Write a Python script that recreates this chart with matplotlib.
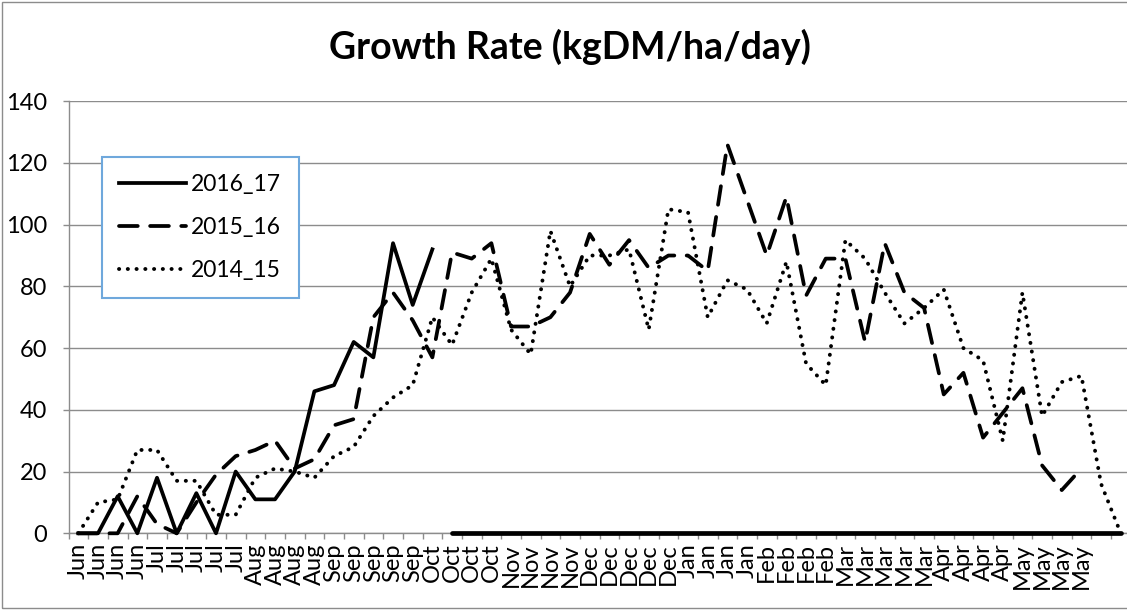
import numpy as np
import matplotlib.pyplot as plt
from matplotlib.patches import Rectangle

plt.rcParams['font.family'] = ['Lato', 'DejaVu Sans']

# Подписи категорий (недели с июня по май)
months = (['Jun'] * 4 + ['Jul'] * 5 + ['Aug'] * 4 + ['Sep'] * 5 + ['Oct'] * 4 +
          ['Nov'] * 4 + ['Dec'] * 5 + ['Jan'] * 4 + ['Feb'] * 4 + ['Mar'] * 5 +
          ['Apr'] * 4 + ['May'] * 4 + ['', ''])

# Скорость роста по сезонам
growth_2016_17 = [0, 0, 12, 0, 18, 0, 13, 0, 20, 11, 11, 20, 46, 48, 62, 57, 94, 74, 92] + [0] * 35
growth_2015_16 = [0, 0, 0, 12, 3, 0, 10, 19, 25, 27, 30, 21, 24, 35, 37, 70, 78, 69, 57,
                  91, 89, 94, 67, 67, 70, 78, 97, 87, 95, 86, 90, 90, 85, 126, 108, 90,
                  109, 77, 89, 89, 62, 94, 78, 73, 45, 52, 31, 39, 47, 22, 14, 21]
growth_2014_15 = [0, 10, 11, 27, 27, 17, 17, 6, 6, 18, 21, 20, 18, 25, 28, 38, 44, 48, 70,
                  61, 78, 89, 66, 58, 98, 80, 90, 90, 92, 66, 105, 104, 70, 82, 79, 68,
                  88, 55, 48, 95, 89, 78, 68, 73, 79, 60, 56, 30, 78, 38, 49, 51, 16, 0]
# в исходной диаграмме линия 2016_17 прерывается после этой недели
break_2016_17 = 19

W, H = 1127, 610
fig = plt.figure(figsize=(W / 100, H / 100), dpi=100)

# Рамка диаграммы
fig.patches.append(Rectangle((2 / W, 2 / H), 1.2, (H - 4) / H, transform=fig.transFigure,
                             fill=False, edgecolor='#8c8c8c', lw=1))

left, right, top, bottom = 68.5, 1130.6, 101.2, 533.3
ax = fig.add_axes([left / W, (H - bottom) / H, (right - left) / W, (bottom - top) / H])

grid_col = '#8c8c8c'
x = np.arange(len(months))
x17 = np.arange(len(growth_2016_17))

ax.plot(x17[:break_2016_17], growth_2016_17[:break_2016_17], color='black', lw=2.7,
        solid_joinstyle='round', label='2016_17', zorder=4, clip_on=False)
ax.plot(x17[break_2016_17:], growth_2016_17[break_2016_17:], color='black', lw=3.4,
        solid_capstyle='round', zorder=4, clip_on=False)
ax.plot(np.arange(len(growth_2015_16)), growth_2015_16, color='black', lw=2.7,
        linestyle=(0, (5, 3.3)), dash_capstyle='round', label='2015_16', zorder=3,
        clip_on=False)
ax.plot(np.arange(len(growth_2014_15)), growth_2014_15, color='black', lw=2.8,
        linestyle=(0, (0.05, 2.2)), dash_capstyle='round', label='2014_15', zorder=3,
        clip_on=False)

ax.set_xlim(-0.5, len(months) - 0.5)
ax.set_ylim(0, 140)
ax.set_yticks(range(0, 141, 20))
ax.yaxis.grid(True, color=grid_col, lw=1)
ax.set_axisbelow(True)

ax.set_xticks(x)
ax.set_xticklabels(months, rotation=90, fontsize=17)
ax.set_xticks(np.arange(-0.5, len(months), 1), minor=True)
ax.tick_params(axis='x', which='major', length=0, pad=7)
ax.tick_params(axis='x', which='minor', length=4, color=grid_col, width=1)
ax.tick_params(axis='y', length=4.5, color=grid_col, width=1, labelsize=17, pad=11)

for s in ['top', 'right']:
    ax.spines[s].set_visible(False)
for s in ['left', 'bottom']:
    ax.spines[s].set_color(grid_col)
    ax.spines[s].set_linewidth(1)

fig.text(570 / W, 1 - 47 / H, 'Growth Rate (kgDM/ha/day)', ha='center', va='center',
         fontsize=27, fontweight='bold')

leg = ax.legend(loc='upper left', bbox_to_anchor=(102 / W, 1 - 157 / H),
                bbox_transform=fig.transFigure, fontsize=16.5, frameon=True,
                fancybox=False, edgecolor='#6fa8dc', framealpha=1,
                handlelength=2.9, handletextpad=0.25, labelspacing=0.95,
                borderpad=0.75, borderaxespad=0)
leg.get_frame().set_linewidth(1.5)
leg.set_zorder(5)

fig.savefig('out.png', dpi=100)
